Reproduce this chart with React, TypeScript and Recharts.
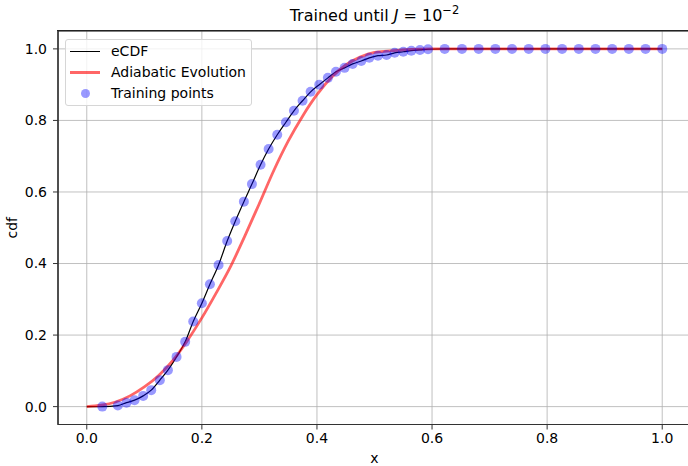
import React from 'react';
import {
  ComposedChart,
  Line,
  Scatter,
  XAxis,
  YAxis,
  CartesianGrid,
  Legend,
  Label,
  ReferenceArea,
} from 'recharts';

// training points (x, cdf)
const trainX = [
  0.027, 0.054, 0.069, 0.083, 0.098, 0.112, 0.127, 0.141, 0.156, 0.171, 0.185,
  0.2, 0.214, 0.229, 0.244, 0.258, 0.273, 0.287, 0.302, 0.316, 0.331, 0.346,
  0.36, 0.375, 0.389, 0.404, 0.419, 0.433, 0.448, 0.462, 0.477, 0.491, 0.506,
  0.521, 0.535, 0.55, 0.564, 0.579, 0.593, 0.622, 0.652, 0.681, 0.71, 0.739,
  0.768, 0.797, 0.826, 0.855, 0.884, 0.913, 0.942, 0.971, 1.0,
];
const trainY = [
  0.0, 0.003, 0.011, 0.018, 0.03, 0.046, 0.074, 0.102, 0.139, 0.181, 0.238,
  0.289, 0.342, 0.396, 0.463, 0.518, 0.573, 0.622, 0.676, 0.72, 0.76, 0.795,
  0.827, 0.855, 0.88, 0.9, 0.919, 0.936, 0.947, 0.958, 0.966, 0.975, 0.981,
  0.983, 0.989, 0.992, 0.995, 0.997, 0.999, 1.0, 1.0, 1.0, 1.0, 1.0,
  1.0, 1.0, 1.0, 1.0, 1.0, 1.0, 1.0, 1.0, 1.0,
];

// empirical cdf curve
const ecdfX = [0.0, 0.027, ...trainX.slice(1)];
const ecdfY = [0.0, 0.0, ...trainY.slice(1)];

// adiabatic evolution result
const adiabX = [
  0.0, 0.025, 0.05, 0.075, 0.1, 0.125, 0.15, 0.175, 0.2, 0.225, 0.25, 0.275,
  0.3, 0.325, 0.35, 0.375, 0.4, 0.425, 0.45, 0.475, 0.5, 0.55, 0.6, 0.7, 0.8,
  0.9, 1.0,
];
const adiabY = [
  0.0, 0.004, 0.013, 0.03, 0.055, 0.087, 0.13, 0.185, 0.248, 0.318, 0.392,
  0.478, 0.568, 0.66, 0.742, 0.812, 0.872, 0.92, 0.955, 0.977, 0.99, 0.997,
  1.0, 1.0, 1.0, 1.0, 1.0,
];

const xTicks = [0, 0.2, 0.4, 0.6, 0.8, 1.0];
const yTicks = [0, 0.2, 0.4, 0.6, 0.8, 1.0];

const FONT = 'DejaVu Sans, sans-serif';

const trainData = trainX.map((x, i) => ({ x, y: trainY[i] }));
const ecdfData = ecdfX.map((x, i) => ({ x, y: ecdfY[i] }));
const adiabData = adiabX.map((x, i) => ({ x, y: adiabY[i] }));

function LegendBox() {
  const row = (top: number, handle: React.ReactNode, text: string) => (
    <div style={{ position: 'absolute', left: 0, top, height: 21, width: '100%' }}>
      <div style={{ position: 'absolute', left: 4, top: 0, width: 30, height: 21 }}>{handle}</div>
      <span
        style={{
          position: 'absolute',
          left: 45,
          top: 1,
          fontSize: 14,
          lineHeight: '19px',
          color: '#000',
          whiteSpace: 'nowrap',
        }}
      >
        {text}
      </span>
    </div>
  );
  return (
    <div
      style={{
        position: 'relative',
        width: 187,
        height: 67,
        boxSizing: 'border-box',
        border: '1px solid #d6d6d6',
        borderRadius: 3,
        background: 'rgba(255,255,255,0.8)',
        fontFamily: FONT,
      }}
    >
      {row(1, <div style={{ position: 'absolute', top: 10, left: 0, width: 30, height: 1, background: '#000' }} />, 'eCDF')}
      {row(22, <div style={{ position: 'absolute', top: 9, left: 0, width: 30, height: 3, background: 'rgba(255,0,0,0.6)' }} />, 'Adiabatic Evolution')}
      {row(42.5, <div style={{ position: 'absolute', top: 6, left: 11, width: 9, height: 9, borderRadius: '50%', background: 'rgba(0,0,255,0.4)' }} />, 'Training points')}
    </div>
  );
}

export default function App() {
  return (
    <div style={{ position: 'absolute', left: 0, top: 0, width: 688, height: 466, overflow: 'hidden', background: '#fff' }}>
      <div
        style={{
          position: 'absolute',
          left: 58,
          width: 633,
          top: 8,
          textAlign: 'center',
          fontFamily: FONT,
          fontSize: 16,
          lineHeight: '16px',
          color: '#000',
          whiteSpace: 'nowrap',
        }}
      >
        Trained until <i>J</i> = 10
        <span style={{ position: 'relative', top: -7, fontSize: 11.5 }}>−2</span>
      </div>
      <ComposedChart
        width={691}
        height={466}
        margin={{ top: 31, right: 0, bottom: 0, left: 0 }}
        style={{ fontFamily: FONT }}
      >
        <CartesianGrid stroke="#b0b0b0" strokeWidth={0.8} />
        {/* axes frame */}
        <ReferenceArea
          x1={-0.05}
          x2={1.05}
          y1={-0.05}
          y2={1.05}
          fill="none"
          fillOpacity={0}
          stroke="#222"
          strokeWidth={1.2}
          strokeOpacity={1}
          ifOverflow="visible"
        />
        <XAxis
          dataKey="x"
          type="number"
          domain={[-0.05, 1.05]}
          ticks={xTicks}
          tickFormatter={(v: number) => v.toFixed(1)}
          allowDataOverflow
          height={41.5}
          tickSize={5}
          tickMargin={4}
          stroke="#333"
          tick={{ fill: '#000', fontSize: 14, fontFamily: FONT }}
        >
          <Label
            content={(p: any) => {
              const vb = p.viewBox;
              return (
                <text x={vb.x + vb.width / 2} y={463} textAnchor="middle" fontSize={14} fontFamily={FONT} fill="#000">
                  x
                </text>
              );
            }}
          />
        </XAxis>
        <YAxis
          dataKey="y"
          type="number"
          domain={[-0.05, 1.05]}
          ticks={yTicks}
          tickFormatter={(v: number) => v.toFixed(1)}
          allowDataOverflow
          width={58}
          tickSize={5}
          tickMargin={6}
          stroke="#333"
          tick={{ fill: '#000', fontSize: 14, fontFamily: FONT }}
        >
          <Label
            content={(p: any) => {
              const vb = p.viewBox;
              const cy = vb.y + vb.height / 2;
              return (
                <text x={17} y={cy} transform={`rotate(-90 17 ${cy})`} textAnchor="middle" fontSize={14} fontFamily={FONT} fill="#000">
                  cdf
                </text>
              );
            }}
          />
        </YAxis>
        <Legend
          layout="vertical"
          align="center"
          verticalAlign="middle"
          wrapperStyle={{ position: 'absolute', left: 65, top: 39, width: 187, height: 67 }}
          content={() => <LegendBox />}
        />
        <Line
          data={ecdfData}
          dataKey="y"
          type="monotone"
          stroke="#000"
          strokeWidth={1.2}
          dot={false}
          activeDot={false}
          isAnimationActive={false}
          name="eCDF"
        />
        <Line
          data={adiabData}
          dataKey="y"
          type="monotone"
          stroke="#ff0000"
          strokeOpacity={0.6}
          strokeWidth={2.8}
          dot={false}
          activeDot={false}
          isAnimationActive={false}
          name="Adiabatic Evolution"
        />
        <Scatter
          data={trainData}
          dataKey="y"
          name="Training points"
          isAnimationActive={false}
          shape={(p: any) => <circle cx={p.cx} cy={p.cy} r={5} fill="#0000ff" fillOpacity={0.4} />}
        />
      </ComposedChart>
      <div
        style={{
          position: 'absolute',
          zIndex: 10,
          left: 57,
          top: 30,
          width: 640,
          height: 2,
          borderTop: '1.5px solid #222',
          boxSizing: 'border-box',
          pointerEvents: 'none',
        }}
      />
    </div>
  );
}
